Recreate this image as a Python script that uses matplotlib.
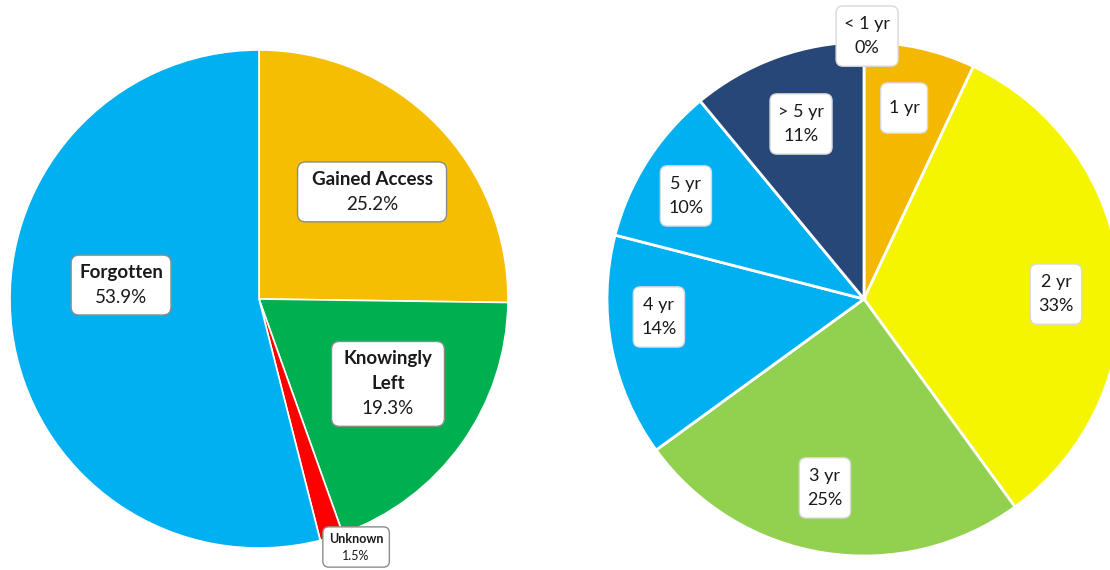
import matplotlib
matplotlib.use("Agg")
import matplotlib.pyplot as plt
from matplotlib.patches import FancyBboxPatch

# ---- data ----
left_labels = ["Gained Access", "Knowingly\nLeft", "Unknown", "Forgotten"]
left_values = [25.2, 19.3, 1.5, 53.9]
left_colors = ["#F5BE00", "#00B050", "#FF0000", "#00B0F0"]

right_labels = ["< 1 yr", "1 yr", "2 yr", "3 yr", "4 yr", "5 yr", "> 5 yr"]
right_values = [0, 7, 33, 25, 14, 10, 11]
right_show_pct = [True, False, True, True, True, True, True]
right_colors = ["#FFFFFF", "#F5B800", "#F5F500", "#92D050", "#00B0F0", "#00B0F0", "#264778"]

# label positions (relative to pie centre, in units of radius)
left_label_pos = [(0.454, 0.430), (0.518, -0.341), (0.390, -0.996), (-0.554, 0.056)]
left_label_padx = [14, 12, 6, 8]
right_label_pos = [(0.012, 1.023), (0.156, 0.743), (0.747, 0.019), (-0.152, -0.735),
                   (-0.798, -0.070), (-0.693, 0.401), (-0.245, 0.681)]

W, H = 1110, 570
fig = plt.figure(figsize=(W / 100, H / 100), dpi=100)
ax = fig.add_axes([0, 0, 1, 1])
ax.set_xlim(0, W)
ax.set_ylim(0, H)
ax.set_aspect("equal")
ax.axis("off")

FONT = ["Lato", "DejaVu Sans"]


def label_box(x, y, lines, fs, spacing, edgecolor, padx, pady, rounding):
    """lines: list of (text, bold). Draw centred stack of lines and a rounded box."""
    n = len(lines)
    texts = []
    for i, (t, bold) in enumerate(lines):
        yy = y + ((n - 1) / 2 - i) * spacing
        texts.append(ax.text(x, yy, t, ha="center", va="center", fontsize=fs,
                             fontweight="bold" if bold else "normal",
                             family=FONT, color="#1a1a1a", zorder=6))
    fig.canvas.draw()
    inv = ax.transData.inverted()
    x0 = 1e9
    x1 = -1e9
    for t in texts:
        bb = t.get_window_extent().transformed(inv)
        x0, x1 = min(x0, bb.x0), max(x1, bb.x1)
    half_h = (n - 1) / 2 * spacing + fs * 1.389 * 0.45
    y0, y1 = y - half_h, y + half_h
    box = FancyBboxPatch((x0 - padx, y0 - pady), (x1 - x0) + 2 * padx, (y1 - y0) + 2 * pady,
                         boxstyle=f"round,pad=0,rounding_size={rounding}",
                         facecolor="white", edgecolor=edgecolor, linewidth=1.0, zorder=5)
    ax.add_patch(box)


# left pie
lc = (259, H - 299)
lr = 249
ax.pie(left_values, colors=left_colors, startangle=90, counterclock=False,
       center=lc, radius=lr, frame=True,
       wedgeprops=dict(edgecolor="white", linewidth=1.2))

for lab, val, (fx, fy), padx in zip(left_labels, left_values, left_label_pos, left_label_padx):
    small = lab == "Unknown"
    fs = 9 if small else 13.5
    lines = [(s, True) for s in lab.split("\n")] + [(f"{val}%", False)]
    label_box(lc[0] + fx * lr, lc[1] + fy * lr, lines, fs,
              17 if small else 25, "#8C8C8C",
              padx, 6 if small else 9, 6 if small else 8)

# right pie
rc = (864, H - 299)
rr = 257
ax.pie(right_values, colors=right_colors, startangle=90, counterclock=False,
       center=rc, radius=rr, frame=True,
       wedgeprops=dict(edgecolor="white", linewidth=2))

for lab, val, show, (fx, fy) in zip(right_labels, right_values, right_show_pct, right_label_pos):
    lines = [(lab, False)] + ([(f"{val}%", False)] if show else [])
    pady = 10 if show else 17
    label_box(rc[0] + fx * rr, rc[1] + fy * rr, lines, 13, 24, "#D9D9D9", 8, pady, 7)

ax.set_xlim(0, W)
ax.set_ylim(0, H)
ax.axis("off")
fig.savefig("out.png", dpi=100)
